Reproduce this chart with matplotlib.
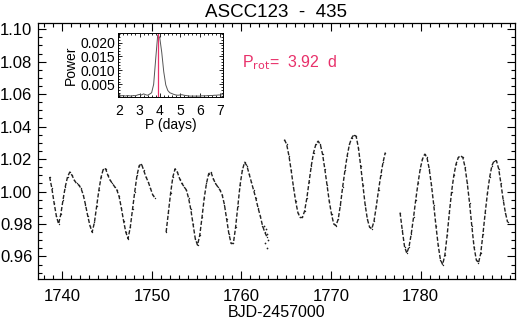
import numpy as np
import matplotlib
matplotlib.use("Agg")
import matplotlib.pyplot as plt
from matplotlib.ticker import MultipleLocator

plt.rcParams['font.family'] = ['Liberation Sans', 'DejaVu Sans']

# light curve (cadence 0.25 d per segment)
seg1_start, seg1_flux = 1738.60, [
    1.009, 1.002, 0.993, 0.985, 0.980, 0.986, 0.995, 1.003, 1.009, 1.012,
    1.010, 1.007, 1.005, 1.004, 1.002, 0.998, 0.992, 0.985, 0.979, 0.975,
    0.981, 0.991, 1.001, 1.009, 1.014, 1.014, 1.010, 1.007, 1.005, 1.003,
    1.001, 0.997, 0.990, 0.982, 0.975, 0.971, 0.978, 0.989, 1.000, 1.010,
    1.016, 1.017, 1.013, 1.009, 1.006, 1.002, 0.998, 0.996]
seg2_start, seg2_flux = 1751.60, [
    0.975, 0.987, 0.999, 1.009, 1.014, 1.012, 1.008, 1.005, 1.003, 1.001,
    0.996, 0.989, 0.980, 0.971, 0.967, 0.973, 0.984, 0.996, 1.005, 1.011,
    1.012, 1.008, 1.005, 1.003, 1.001, 0.998, 0.992, 0.983, 0.974, 0.968,
    0.968, 0.978, 0.991, 1.004, 1.013, 1.018, 1.016, 1.011, 1.006, 1.001,
    0.996, 0.990, 0.985, 0.979, 0.975, 0.972]
seg3_start, seg3_flux = 1764.80, [
    1.032, 1.029, 1.022, 1.013, 1.003, 0.994, 0.987, 0.984, 0.984, 0.988,
    0.996, 1.006, 1.016, 1.024, 1.029, 1.031, 1.029, 1.023, 1.014, 1.004,
    0.994, 0.986, 0.980, 0.979, 0.983, 0.992, 1.003, 1.013, 1.022, 1.029,
    1.033, 1.035, 1.034, 1.027, 1.016, 1.004, 0.992, 0.983, 0.978, 0.977,
    0.982, 0.991, 1.001, 1.010, 1.018, 1.024]
seg4_start, seg4_flux = 1777.70, [
    0.987, 0.976, 0.966, 0.962, 0.966, 0.974, 0.984, 0.995, 1.005, 1.014,
    1.020, 1.023, 1.021, 1.014, 1.004, 0.992, 0.979, 0.967, 0.958, 0.955,
    0.961, 0.973, 0.987, 1.000, 1.010, 1.017, 1.021, 1.022, 1.021, 1.015,
    1.005, 0.993, 0.979, 0.966, 0.958, 0.956, 0.962, 0.974, 0.987, 0.999,
    1.009, 1.016, 1.019, 1.019, 1.014, 1.005, 0.995, 0.987, 0.981]
cadence = 0.25

# noisy bit at the end of the second segment
noisy_t = [1762.50, 1762.60, 1762.70, 1762.80, 1762.90, 1762.95]
noisy_f = [0.979, 0.968, 0.977, 0.965, 0.974, 0.970]

# periodogram for the inset
per = [2.0, 2.1, 2.2, 2.3, 2.4, 2.5, 2.6, 2.7, 2.8, 2.9, 3.0, 3.1, 3.2, 3.3,
       3.4, 3.5, 3.6, 3.7, 3.8, 3.9, 4.0, 4.1, 4.2, 4.3, 4.4, 4.5, 4.6, 4.7,
       4.8, 4.9, 5.0, 5.1, 5.2, 5.3, 5.4, 5.5, 5.6, 5.7, 5.8, 5.9, 6.0, 6.1,
       6.2, 6.3, 6.4, 6.5, 6.6, 6.7, 6.8, 6.9, 7.0, 7.1]
power = [0.0013, 0.0009, 0.0010, 0.0008, 0.0010, 0.0009, 0.0008, 0.0010,
         0.0009, 0.0012, 0.0014, 0.0012, 0.0016, 0.0013, 0.0011, 0.0015,
         0.0020, 0.0050, 0.0140, 0.0226, 0.0218, 0.0165, 0.0095, 0.0048,
         0.0028, 0.0020, 0.0017, 0.0014, 0.0012, 0.0011, 0.0012, 0.0013,
         0.0011, 0.0010, 0.0009, 0.0008, 0.0008, 0.0008, 0.0008, 0.0008,
         0.0008, 0.0009, 0.0009, 0.0009, 0.0010, 0.0010, 0.0010, 0.0011,
         0.0011, 0.0012, 0.0012, 0.0013]
p_rot = 3.92

pink = '#e8306a'

fig = plt.figure(figsize=(5.2, 3.22), dpi=100)
ax = fig.add_axes([0.073, 0.133, 0.917, 0.7965])

for t0, fl in [(seg1_start, seg1_flux), (seg2_start, seg2_flux),
               (seg3_start, seg3_flux), (seg4_start, seg4_flux)]:
    t = t0 + cadence * np.arange(len(fl))
    ax.plot(t, fl, ls=(0, (3, 1.4)), lw=1.0, color='#222222',
            marker='.', ms=2.0, mew=0)
ax.plot(noisy_t, noisy_f, '.', ms=2.5, color='#222222', mew=0)

ax.set_xlim(1737.3, 1790.5)
ax.set_ylim(0.946, 1.104)
ax.set_xticks([1740, 1750, 1760, 1770, 1780])
ax.xaxis.set_minor_locator(MultipleLocator(1))
ax.yaxis.set_major_locator(MultipleLocator(0.02))
ax.yaxis.set_minor_locator(MultipleLocator(0.005))
ax.yaxis.set_major_formatter(plt.FormatStrFormatter('%.2f'))
ax.tick_params(which='both', direction='in', top=True, right=True,
               labelsize=12, width=0.8)
ax.tick_params(which='major', length=5.5)
ax.tick_params(which='minor', length=2.8)
ax.tick_params(axis='y', pad=4)
ax.tick_params(axis='x', pad=7)
for s in ax.spines.values():
    s.set_linewidth(0.9)
ax.set_xlabel('BJD-2457000', fontsize=11.5, labelpad=1)
ax.set_title('ASCC123  -  435', fontsize=13.5, pad=4)

ax.text(0.428, 0.845, r'P$_{\rm rot}$=  3.92  d', transform=ax.transAxes,
        color=pink, fontsize=11.5, va='center', ha='left')

# inset periodogram
ins = fig.add_axes([0.2275, 0.699, 0.202, 0.1976])
ins.plot(per, power, color='#555555', lw=0.7)
ins.axvline(p_rot, color=pink, lw=0.9)
ins.set_xlim(1.95, 7.15)
ins.set_ylim(0.0005, 0.0233)
ins.xaxis.set_major_locator(MultipleLocator(1))
ins.xaxis.set_minor_locator(MultipleLocator(0.2))
ins.yaxis.set_minor_locator(MultipleLocator(0.001))
ins.yaxis.set_major_formatter(plt.FormatStrFormatter('%.3f'))
ins.set_yticks([0.005, 0.010, 0.015, 0.020])
ins.tick_params(which='both', direction='in', top=True, right=True,
                labelsize=10, width=0.6, pad=2)
ins.tick_params(which='major', length=3)
ins.tick_params(which='minor', length=1.5)
ins.tick_params(axis='x', pad=5)
ins.set_xlabel('P (days)', fontsize=10, labelpad=0)
ins.set_ylabel('Power', fontsize=10, labelpad=2)
for s in ins.spines.values():
    s.set_linewidth(0.7)

fig.savefig('out.png', dpi=100)
